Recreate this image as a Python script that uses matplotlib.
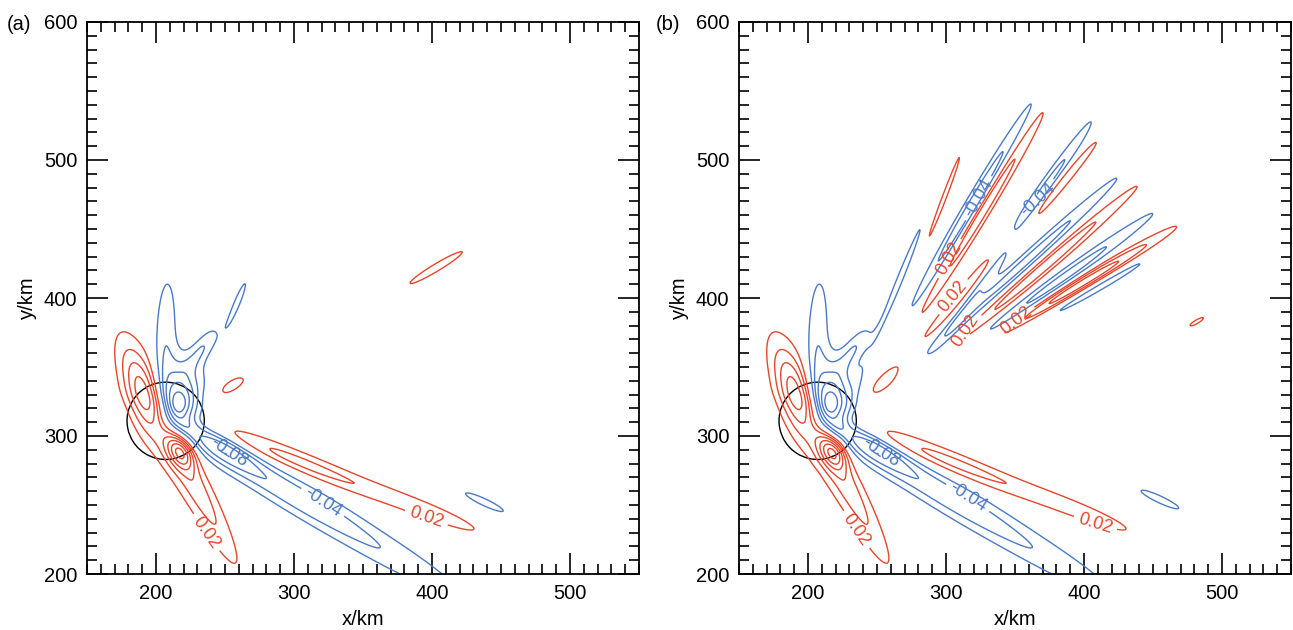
import numpy as np
import matplotlib.pyplot as plt
from matplotlib.patches import Circle

plt.rcParams['font.family'] = ['Liberation Sans', 'DejaVu Sans']
plt.rcParams['axes.unicode_minus'] = False

RED = '#e4462b'
BLUE = '#4a7ac6'

# features of the field: centre x, centre y (km), spread along / across (km), angle (deg), amplitude
#            r-up  r-low r-tail r-wide b-core b-in  b-top b-fing b-fing2 band1 band2 band3 rband1 rband2
core_cx  = [190, 218, 230, 200, 216, 216, 220, 207, 234, 246, 292, 367, 303, 400]
core_cy  = [330, 289, 262, 315, 322, 322, 345, 373, 364, 292, 262, 216, 281.7, 245]
core_sa  = [24, 9, 47, 45, 14, 5, 14, 35, 13, 22, 45, 60, 55, 35]
core_sb  = [8.5, 6, 7, 9.5, 10, 4, 12, 6, 4.5, 7, 8, 9, 5.5, 4.5]
core_ang = [107, 120, -63, -67, 90, 90, 90, 88, 55, -30, -30, -30, -22, -22]
core_amp = [0.06, 0.08, 0.045, 0.03, -0.10, -0.02, -0.03, -0.035, -0.035, -0.06, -0.045, -0.032, 0.047, 0.028]

# panel (a) only
a_cx  = [259, 403, 438, 255]
a_cy  = [397, 422, 252, 336.5]
a_sa  = [21.5, 33, 22.5, 14]
a_sb  = [3, 4, 3.7, 5.2]
a_ang = [67.7, 31, -25, 31]
a_amp = [-0.025, 0.025, -0.025, 0.025]

# panel (b) only: the fan of stripes and small blobs
#        B1   R1   B2     R2     B3     R3     B4     R4     B5     R5     B6
b_cx  = [270, 298, 317.4, 325.4, 353.5, 346.3, 357.9, 370.6, 383.8, 397.6, 407.4, 256, 455, 481.7]
b_cy  = [421, 473, 465, 460.8, 451.7, 441.5, 426.4, 422.3, 413.7, 409.9, 406.4, 339, 254, 382.8]
b_sa  = [58.7, 58, 62, 61, 58, 67, 66, 63, 60, 50, 47, 12, 22.5, 12.6]
b_sb  = [3.45, 3.4, 3.6, 3.6, 3.7, 3.7, 3.8, 3.7, 3.8, 3.5, 3.3, 5, 3.7, 3]
b_ang = [67.4, 69, 59.6, 58.7, 55.8, 48.8, 42.5, 40.8, 35.7, 31, 29.8, 37, -25, 30]
b_amp = [-0.026, 0.026, -0.055, 0.055, -0.07, 0.055, -0.05, 0.055, -0.05, 0.075, -0.03, 0.025, -0.025, 0.022]

circle_x, circle_y, circle_r = 207, 311, 28

labels_a_pos = [(393.7, 234.3), (232, 227)]
labels_a_neg = [(318.8, 248.8), (253.6, 289.9)]
labels_b_pos = [(300.7, 429.7), (306.5, 400), (311.6, 378.3), (347.8, 387.7), (408, 236), (229, 228)]
labels_b_neg = [(323.2, 472.5), (366, 472), (317, 257), (253.6, 289.9)]

neg_levels = [-0.16, -0.14, -0.12, -0.10, -0.08, -0.06, -0.04, -0.02]
pos_levels = [0.02, 0.04, 0.06, 0.08, 0.10, 0.12, 0.14, 0.16]

xg = np.linspace(150, 550, 801)
yg = np.linspace(200, 600, 801)
X, Y = np.meshgrid(xg, yg)


def field(cx, cy, sa, sb, ang, amp):
    f = np.zeros_like(X)
    for x0, y0, a, b, t, A in zip(cx, cy, sa, sb, ang, amp):
        t = np.radians(t)
        u = (X - x0) * np.cos(t) + (Y - y0) * np.sin(t)
        v = -(X - x0) * np.sin(t) + (Y - y0) * np.cos(t)
        f += A * np.exp(-(u**2 / (2 * a**2) + v**2 / (2 * b**2)))
    return f


Za = field(core_cx + a_cx, core_cy + a_cy, core_sa + a_sa, core_sb + a_sb, core_ang + a_ang, core_amp + a_amp)
Zb = field(core_cx + b_cx, core_cy + b_cy, core_sa + b_sa, core_sb + b_sb, core_ang + b_ang, core_amp + b_amp)

fig = plt.figure(figsize=(12.93, 6.30), dpi=100)
axa = fig.add_axes([87 / 1293, 56 / 630, 552 / 1293, 552 / 630])
axb = fig.add_axes([739 / 1293, 56 / 630, 552 / 1293, 552 / 630])

panels = [(axa, Za, labels_a_pos, labels_a_neg, '(a)', 7),
          (axb, Zb, labels_b_pos, labels_b_neg, '(b)', 656)]
for ax, Z, lpos, lneg, tag, tx in panels:
    cn = ax.contour(X, Y, Z, levels=neg_levels, colors=BLUE, linewidths=1.0, linestyles='solid')
    cp = ax.contour(X, Y, Z, levels=pos_levels, colors=RED, linewidths=1.0)
    ax.clabel(cn, fmt='%.2f', manual=lneg, fontsize=13, inline=True)
    ax.clabel(cp, fmt='%.2f', manual=lpos, fontsize=13, inline=True)
    ax.add_patch(Circle((circle_x, circle_y), circle_r, fill=False, color='black', lw=1.0))
    ax.set_xlim(150, 550)
    ax.set_ylim(200, 600)
    ax.set_xticks([200, 300, 400, 500])
    ax.set_yticks([200, 300, 400, 500, 600])
    ax.set_xticks(np.arange(150, 551, 10), minor=True)
    ax.set_yticks(np.arange(200, 601, 10), minor=True)
    ax.tick_params(which='both', direction='in', top=True, right=True, width=1.2, labelsize=14.5)
    ax.tick_params(which='major', length=15, pad=7)
    ax.tick_params(which='minor', length=7)
    for s in ax.spines.values():
        s.set_linewidth(1.3)
    ax.set_xlabel('x/km', fontsize=14.5, labelpad=5)
    ax.set_ylabel('y/km', fontsize=14.5, labelpad=5)
    fig.text(tx / 1293, 1 - 25 / 630, tag, fontsize=14.5, va='center', ha='left')

fig.savefig('out.png', dpi=100)
